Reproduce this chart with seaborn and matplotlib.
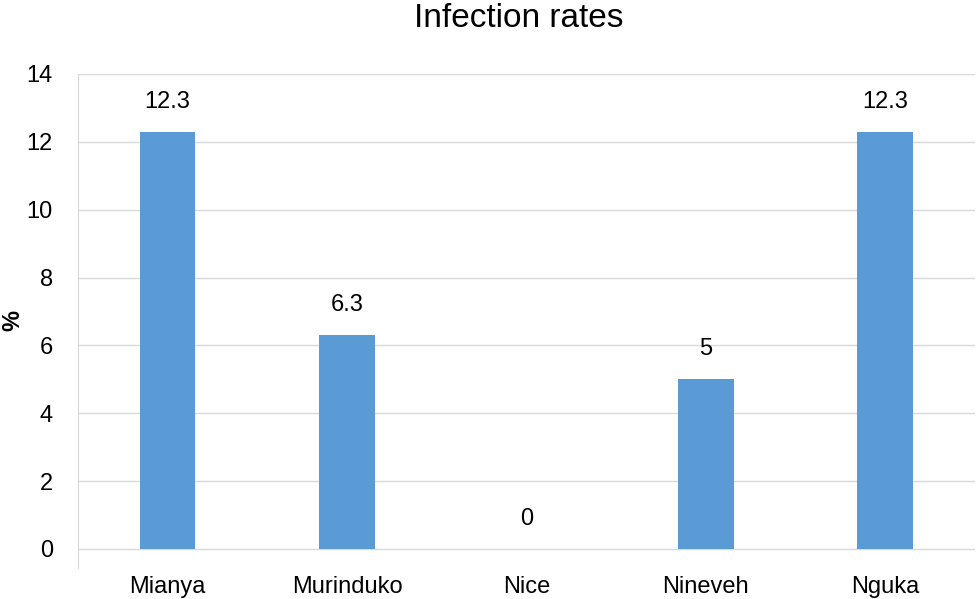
import matplotlib
matplotlib.use('Agg')
import matplotlib.pyplot as plt
import seaborn as sns
import pandas as pd

# Dados do gráfico
locais = ['Mianya', 'Murinduko', 'Nice', 'Nineveh', 'Nguka']
taxas = [12.3, 6.3, 0, 5, 12.3]
yticks = [0, 2, 4, 6, 8, 10, 12, 14]

data = pd.DataFrame({'Local': locais, 'Taxa': taxas})

sns.set_style('white')
plt.rcParams['font.family'] = ['Liberation Sans Narrow', 'Liberation Sans', 'DejaVu Sans']
plt.rcParams['text.color'] = 'black'
plt.rcParams['xtick.labelcolor'] = 'black'
plt.rcParams['ytick.labelcolor'] = 'black'
plt.rcParams['axes.labelcolor'] = 'black'

fig = plt.figure(figsize=(9.77, 5.99), dpi=100)
ax = fig.add_axes([0.0798, 0.0518, 0.918, 0.8247])

sns.barplot(data=data, x='Local', y='Taxa', color='#5B9BD5', width=0.31,
            saturation=1, linewidth=0, ax=ax, zorder=3)

# rótulos dos valores
for i, v in enumerate(taxas):
    ax.text(i, v + 0.88, f'{v:g}', ha='center', va='center', fontsize=17, color='black')

ax.set_ylim(-0.56, 14)
ax.set_xlim(-0.5, 4.5)
ax.set_yticks(yticks)
ax.set_yticklabels([str(t) for t in yticks], fontsize=17)
ax.tick_params(axis='y', length=11, color='#D9D9D9', width=1, pad=7)
ax.tick_params(axis='x', length=0, labelsize=17, pad=6)

# grade horizontal
for t in yticks:
    ax.axhline(t, color='#D9D9D9', lw=1, zorder=1)

for s in ['top', 'right', 'bottom']:
    ax.spines[s].set_visible(False)
ax.spines['left'].set_color('#D9D9D9')
ax.spines['left'].set_bounds(-0.56, 14)

ax.set_xlabel('')
ax.set_ylabel('%', fontsize=17, fontweight='bold')
ax.yaxis.set_label_coords(-0.06, 0.5)

fig.suptitle('Infection rates', fontsize=24, y=0.995, x=0.531, color='black')

plt.savefig('out.png', dpi=100)
